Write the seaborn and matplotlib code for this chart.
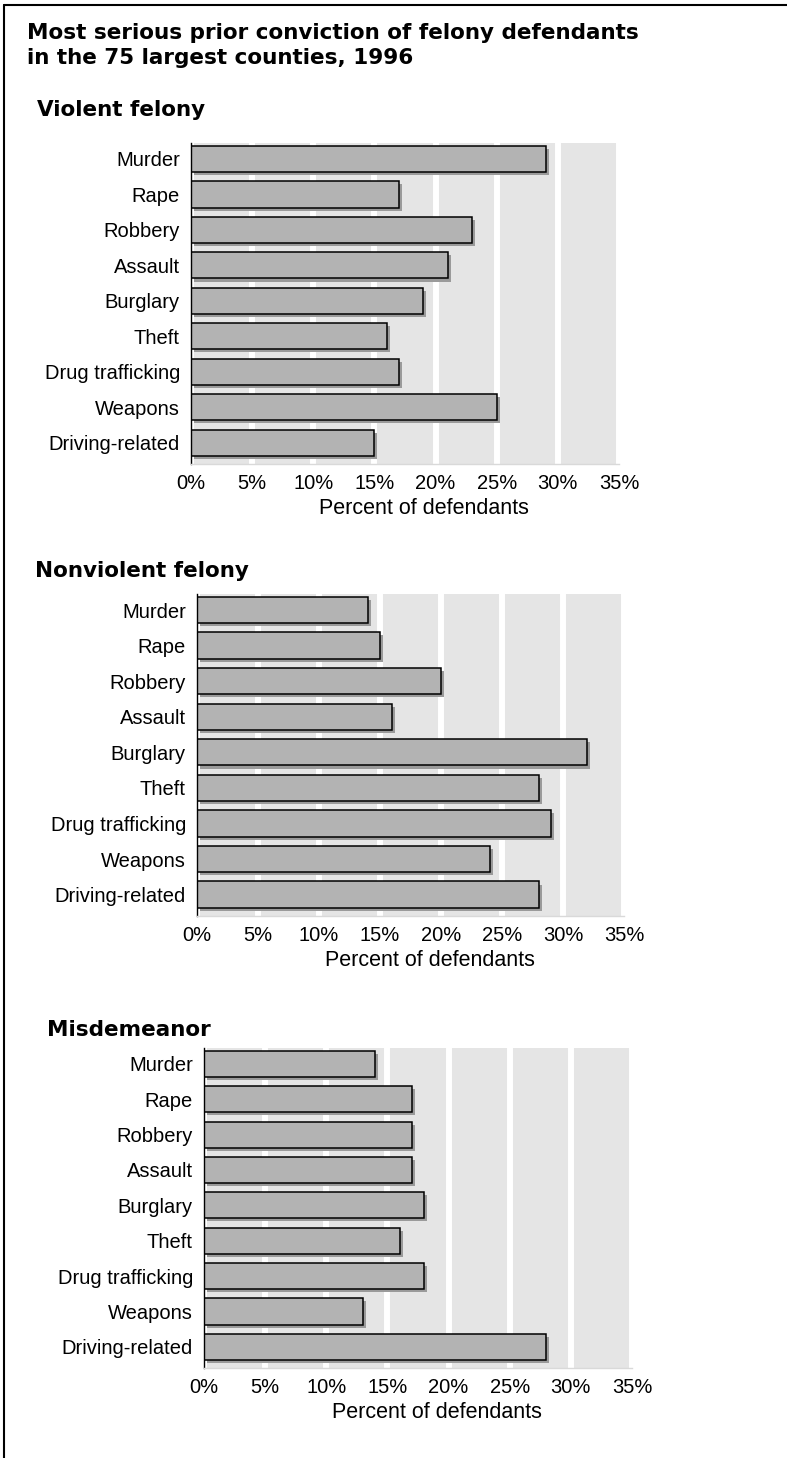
import seaborn as sns
import numpy as np
import pandas as pd
import matplotlib.pyplot as plt
import matplotlib.patheffects as pe
from matplotlib.lines import Line2D

# data
offenses = ['Murder', 'Rape', 'Robbery', 'Assault', 'Burglary', 'Theft',
            'Drug trafficking', 'Weapons', 'Driving-related']
violent = [29, 17, 23, 21, 19, 16, 17, 25, 15]
nonviolent = [14, 15, 20, 16, 32, 28, 29, 24, 28]
misdemeanor = [14, 17, 17, 17, 18, 16, 18, 13, 28]
panel_titles = ['Violent felony', 'Nonviolent felony', 'Misdemeanor']
x_ticks = [0, 5, 10, 15, 20, 25, 30, 35]
x_ticklabels = ['0%', '5%', '10%', '15%', '20%', '25%', '30%', '35%']

sns.set_style("white")
plt.rcParams['font.family'] = ['Liberation Sans', 'DejaVu Sans']

W, H = 787, 1458
fig = plt.figure(figsize=(W / 100, H / 100), dpi=100)

def px_rect(left, right, top, bottom):
    return [left / W, 1 - bottom / H, (right - left) / W, (bottom - top) / H]

# axes boxes in pixels: left, right, top, bottom
boxes = [(191, 619, 143, 464), (197, 624, 594, 916), (204, 632, 1048, 1368)]
title_pos = [(37, 110), (35, 571), (47, 1030)]
series = [violent, nonviolent, misdemeanor]
bold_font = ['DejaVu Sans']

for box, vals, title, tp in zip(boxes, series, panel_titles, title_pos):
    ax = fig.add_axes(px_rect(*box))
    df = pd.DataFrame({'offense': offenses, 'pct': vals})
    sns.barplot(data=df, x='pct', y='offense', orient='h', color='#b3b3b3',
                saturation=1, edgecolor='black', linewidth=1.1, width=0.74, ax=ax)
    # drop shadow under each bar
    for p in ax.patches:
        p.set_path_effects([pe.SimplePatchShadow(offset=(2.2, -2.2), shadow_rgbFace='#9a9a9a', alpha=1),
                            pe.Normal()])
    ax.set_facecolor('#e5e5e5')
    ax.set_xlim(0, 35)
    ax.set_ylim(8.6, -0.45)
    ax.set_xticks(x_ticks)
    ax.set_xticklabels(x_ticklabels)
    ax.grid(axis='x', color='white', linewidth=4.3)
    ax.grid(axis='y', visible=False)
    ax.set_axisbelow(True)
    ax.tick_params(axis='both', length=0, labelsize=14.5, labelcolor='black')
    ax.tick_params(axis='x', pad=7.5)
    ax.tick_params(axis='y', pad=8)
    ax.set_ylabel('')
    ax.set_xlabel('Percent of defendants', fontsize=15.5, va='center', color='black')
    ax.xaxis.set_label_coords(0.545, -45 / (box[3] - box[2]))
    for s in ['top', 'right']:
        ax.spines[s].set_visible(False)
    ax.spines['left'].set_color('black')
    ax.spines['left'].set_linewidth(1)
    ax.spines['bottom'].set_color('#d9d9d9')
    ax.spines['bottom'].set_linewidth(1)
    fig.text(tp[0] / W, 1 - tp[1] / H, title, fontsize=15.5, fontweight='bold',
             family=bold_font, va='center', ha='left', color='black')

fig.text(27 / W, 1 - 33 / H, 'Most serious prior conviction of felony defendants',
         fontsize=15.5, fontweight='bold', family=bold_font, va='center', ha='left', color='black')
fig.text(27 / W, 1 - 58 / H, 'in the 75 largest counties, 1996',
         fontsize=15.5, fontweight='bold', family=bold_font, va='center', ha='left', color='black')

# frame lines on left and top
fig.add_artist(Line2D([3.5 / W, 3.5 / W], [0, 1 - 5 / H], color='black', linewidth=1.5, transform=fig.transFigure))
fig.add_artist(Line2D([3.5 / W, 1], [1 - 5 / H, 1 - 5 / H], color='black', linewidth=1.5, transform=fig.transFigure))

plt.savefig('out.png', dpi=100)
